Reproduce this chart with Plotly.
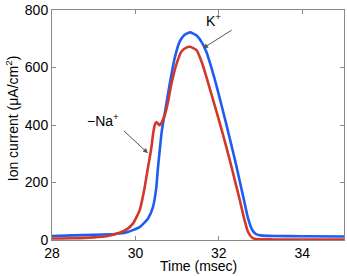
import plotly.graph_objects as go

# K+ current (blue)
k_time = [28.0, 28.5, 29.0, 29.5, 29.8, 30.1, 30.3, 30.42, 30.5, 30.54, 30.58, 30.62,
          30.66, 30.72, 30.82, 30.94, 31.06, 31.18, 31.31, 31.46, 31.58, 31.7, 31.8,
          31.9, 32.0, 32.1, 32.2, 32.3, 32.4, 32.5, 32.6, 32.7, 32.8, 32.9, 33.0,
          33.3, 34.0, 35.0]
k_curr = [14, 16, 18, 21, 27, 45, 74, 114, 182, 251, 308, 365,
          405, 455, 541, 632, 690, 714, 722, 712, 690, 655, 610,
          560, 505, 448, 390, 330, 270, 205, 140, 75, 35, 20, 16,
          14, 13, 12]

# -Na+ current (red)
na_time = [28.0, 28.5, 29.0, 29.3, 29.62, 29.8, 29.94, 30.1, 30.22, 30.3, 30.38, 30.42,
           30.46, 30.5, 30.54, 30.58, 30.64, 30.7, 30.78, 30.86, 30.98, 31.1, 31.22,
           31.31, 31.46, 31.6, 31.7, 31.8, 31.9, 32.0, 32.1, 32.2, 32.3, 32.4, 32.5,
           32.6, 32.7, 32.8, 32.9, 33.3, 34.0, 35.0]
na_curr = [5, 6, 9, 13, 25, 38, 57, 103, 182, 251, 319, 365,
           399, 410, 405, 399, 412, 433, 479, 541, 610, 655, 669,
           672, 661, 615, 568, 518, 468, 418, 366, 312, 256, 198, 140,
           78, 28, 8, 3, 2, 2, 2]

x_ticks = [28, 30, 32, 34]
y_ticks = [0, 200, 400, 600, 800]

FONT = "Liberation Sans, Arial, sans-serif"
AX = "#8a8a8a"

fig = go.Figure()
fig.add_trace(go.Scatter(x=k_time, y=k_curr, mode="lines",
                         line=dict(color="#1f5cf2", width=2.6, shape="spline", smoothing=0.5),
                         showlegend=False))
fig.add_trace(go.Scatter(x=na_time, y=na_curr, mode="lines",
                         line=dict(color="#d2382a", width=2.6, shape="spline", smoothing=0.5),
                         showlegend=False))

axis_common = dict(showgrid=False, zeroline=False, showline=True, linecolor=AX, linewidth=1,
                   ticks="inside", ticklen=4, tickcolor=AX, tickwidth=1, mirror="ticks",
                   ticklabeloverflow="allow",
                   tickfont=dict(family=FONT, size=14, color="black"))

fig.update_xaxes(range=[28, 35], tickvals=x_ticks, **axis_common)
fig.update_yaxes(range=[0, 800], tickvals=y_ticks, **axis_common)

fig.add_annotation(x=31.62, y=667, ax=31.7, ay=-20, text=" ", showarrow=True,
                   arrowhead=2, arrowsize=1, arrowwidth=1, arrowcolor="#555555",
                   xref="x", yref="y")
fig.add_annotation(x=30.30, y=302, ax=-27, ay=-25, text=" ", showarrow=True,
                   arrowhead=2, arrowsize=1, arrowwidth=1, arrowcolor="#555555",
                   xref="x", yref="y")
fig.add_annotation(x=31.87, y=(240 - 16) / 0.2925, text="K<sup>+</sup>", showarrow=False,
                   font=dict(family=FONT, size=14, color="black"), xref="x", yref="y")
fig.add_annotation(x=28 + (103 - 52.5) / 41.7, y=(240 - 118) / 0.2925, text="−Na<sup>+</sup>",
                   showarrow=False, font=dict(family=FONT, size=14, color="black"),
                   xref="x", yref="y")

fig.add_annotation(x=0.5, y=-0.115, xref="paper", yref="paper", text="Time (msec)",
                   showarrow=False, yanchor="middle",
                   font=dict(family=FONT, size=14, color="black"))
fig.add_annotation(x=(12 - 52) / (345 - 52), y=0.53, xref="paper", yref="paper",
                   text="Ion current (μA/cm<sup>2</sup>)",
                   showarrow=False, textangle=-90, xanchor="center", yanchor="middle",
                   font=dict(family=FONT, size=14, color="black"))

fig.update_layout(width=347, height=276, margin=dict(l=52, r=2, t=6, b=36),
                  paper_bgcolor="white", plot_bgcolor="white")

fig.write_html("out.html", config={"displayModeBar": False},
               post_script="document.body.style.margin='0';")
